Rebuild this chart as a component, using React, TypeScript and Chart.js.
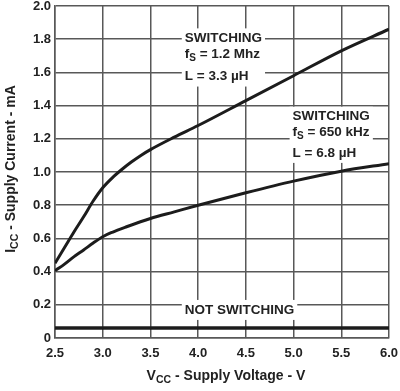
import React, { useEffect, useRef } from 'react';
import { Chart, registerables } from 'chart.js';

Chart.register(...registerables);

// ---- data ----
const xTickValues = [2.5, 3.0, 3.5, 4.0, 4.5, 5.0, 5.5, 6.0];
const xTickLabels = ['2.5', '3.0', '3.5', '4.0', '4.5', '5.0', '5.5', '6.0'];
const yTickValues = [0, 0.2, 0.4, 0.6, 0.8, 1.0, 1.2, 1.4, 1.6, 1.8, 2.0];
const yTickLabels = ['0', '0.2', '0.4', '0.6', '0.8', '1.0', '1.2', '1.4', '1.6', '1.8', '2.0'];

// SWITCHING fS = 1.2 MHz, L = 3.3 uH
const voltage1 = [2.5, 2.6, 2.7, 2.8, 2.9, 3.0, 3.1, 3.2, 3.3, 3.4, 3.5, 3.75, 4.0, 4.5, 5.0, 5.5, 6.0];
const current1 = [0.45, 0.545, 0.64, 0.73, 0.825, 0.905, 0.965, 1.015, 1.06, 1.1, 1.135, 1.21, 1.28, 1.43, 1.58, 1.73, 1.86];

// SWITCHING fS = 650 kHz, L = 6.8 uH
const voltage2 = [2.5, 2.6, 2.7, 2.8, 2.9, 3.0, 3.1, 3.25, 3.5, 3.75, 4.0, 4.5, 5.0, 5.5, 6.0];
const current2 = [0.405, 0.445, 0.49, 0.53, 0.572, 0.61, 0.637, 0.67, 0.72, 0.76, 0.8, 0.875, 0.945, 1.005, 1.05];

// NOT SWITCHING
const voltage3 = [2.5, 6.0];
const current3 = [0.06, 0.06];

type Part = { t: string; sub?: boolean };
type Line = { y: number; parts: Part[] };
type Block = { x: number; lines: Line[] };

const annotationBlocks: Block[] = [
  {
    x: 3.86,
    lines: [
      { y: 1.805, parts: [{ t: 'SWITCHING' }] },
      { y: 1.71, parts: [{ t: 'f' }, { t: 'S', sub: true }, { t: ' = 1.2 Mhz' }] },
      { y: 1.575, parts: [{ t: 'L = 3.3 µH' }] },
    ],
  },
  {
    x: 4.99,
    lines: [
      { y: 1.333, parts: [{ t: 'SWITCHING' }] },
      { y: 1.238, parts: [{ t: 'f' }, { t: 'S', sub: true }, { t: ' = 650 kHz' }] },
      { y: 1.115, parts: [{ t: 'L = 6.8 µH' }] },
    ],
  },
  {
    x: 3.86,
    lines: [{ y: 0.169, parts: [{ t: 'NOT SWITCHING' }] }],
  },
];

const xTitle: Part[] = [{ t: 'V' }, { t: 'CC', sub: true }, { t: ' - Supply Voltage - V' }];
const yTitle: Part[] = [{ t: 'I' }, { t: 'CC', sub: true }, { t: ' - Supply Current - mA' }];

const FAMILY = '"Liberation Sans", Arial, Helvetica, sans-serif';
const TEXT = '#222222';
const GRID = '#585858';

function setFont(ctx: CanvasRenderingContext2D, size: number) {
  ctx.font = `bold ${size}px ${FAMILY}`;
}

function measureParts(ctx: CanvasRenderingContext2D, parts: Part[], size: number, subSize: number) {
  let w = 0;
  for (const p of parts) {
    setFont(ctx, p.sub ? subSize : size);
    w += ctx.measureText(p.t).width;
  }
  return w;
}

function drawParts(
  ctx: CanvasRenderingContext2D,
  parts: Part[],
  x: number,
  y: number,
  size: number,
  subSize: number,
  subOffset: number
) {
  ctx.textBaseline = 'middle';
  ctx.textAlign = 'left';
  ctx.fillStyle = TEXT;
  let cx = x;
  for (const p of parts) {
    setFont(ctx, p.sub ? subSize : size);
    ctx.fillText(p.t, cx, p.sub ? y + subOffset : y);
    cx += ctx.measureText(p.t).width;
  }
}

const ANN_SIZE = 13.5;
const ANN_SUB = 10;

const annotationPlugin = {
  id: 'annotations',
  beforeDatasetsDraw(chart: any) {
    const ctx: CanvasRenderingContext2D = chart.ctx;
    const xs = chart.scales.x;
    const ys = chart.scales.y;
    ctx.save();
    for (const b of annotationBlocks) {
      const left = xs.getPixelForValue(b.x);
      let maxW = 0;
      for (const l of b.lines) maxW = Math.max(maxW, measureParts(ctx, l.parts, ANN_SIZE, ANN_SUB));
      const top = ys.getPixelForValue(b.lines[0].y) - 10;
      const bottom = ys.getPixelForValue(b.lines[b.lines.length - 1].y) + 10;
      ctx.fillStyle = '#ffffff';
      ctx.fillRect(left - 3, top, maxW + 6, bottom - top);
    }
    ctx.restore();
  },
  afterDatasetsDraw(chart: any) {
    const ctx: CanvasRenderingContext2D = chart.ctx;
    const xs = chart.scales.x;
    const ys = chart.scales.y;
    ctx.save();
    for (const b of annotationBlocks) {
      const left = xs.getPixelForValue(b.x);
      for (const l of b.lines) {
        drawParts(ctx, l.parts, left, ys.getPixelForValue(l.y), ANN_SIZE, ANN_SUB, 4);
      }
    }
    ctx.restore();
  },
  afterDraw(chart: any) {
    const ctx: CanvasRenderingContext2D = chart.ctx;
    const area = chart.chartArea;
    ctx.save();
    // x title
    const size = 14;
    const sub = 10.5;
    const wx = measureParts(ctx, xTitle, size, sub);
    const cx = (area.left + area.right) / 2 + 4;
    drawParts(ctx, xTitle, cx - wx / 2, 376, size, sub, 4);
    // y title
    const wy = measureParts(ctx, yTitle, size, sub);
    ctx.translate(11, (area.top + area.bottom) / 2 - 3);
    ctx.rotate(-Math.PI / 2);
    drawParts(ctx, yTitle, -wy / 2, 0, size, sub, 4);
    ctx.restore();
  },
};

export default function App() {
  const ref = useRef<HTMLCanvasElement | null>(null);

  useEffect(() => {
    if (!ref.current) return;
    const tickFont = { family: FAMILY, size: 13, weight: 'bold' as const, lineHeight: 1.2 };
    const lineStyle = {
      borderColor: '#1c1c1c',
      borderWidth: 3,
      pointRadius: 0,
      fill: false,
      cubicInterpolationMode: 'monotone' as const,
    };
    const chart = new Chart(ref.current, {
      type: 'line',
      data: {
        datasets: [
          { ...lineStyle, data: voltage1.map((v, i) => ({ x: v, y: current1[i] })) },
          { ...lineStyle, data: voltage2.map((v, i) => ({ x: v, y: current2[i] })) },
          { ...lineStyle, borderWidth: 3.5, data: voltage3.map((v, i) => ({ x: v, y: current3[i] })) },
        ],
      },
      options: {
        responsive: false,
        animation: false,
        events: [],
        layout: { padding: { top: 6, right: 11, left: 0, bottom: 0 } },
        plugins: { legend: { display: false }, tooltip: { enabled: false } },
        scales: {
          x: {
            type: 'linear',
            min: 2.5,
            max: 6.0,
            afterBuildTicks: (s: any) => {
              s.ticks = xTickValues.map((v) => ({ value: v }));
            },
            afterFit: (s: any) => {
              s.height = 53;
              s.paddingLeft = 0;
              s.paddingRight = 0;
            },
            ticks: {
              font: tickFont,
              color: TEXT,
              padding: 8,
              maxRotation: 0,
              autoSkip: false,
              callback: (_v: any, i: number) => xTickLabels[i],
            },
            grid: { color: GRID, lineWidth: 1.5, drawTicks: false },
            border: { color: GRID, width: 1.5 },
          },
          y: {
            type: 'linear',
            min: 0,
            max: 2.0,
            afterBuildTicks: (s: any) => {
              s.ticks = yTickValues.map((v) => ({ value: v }));
            },
            afterFit: (s: any) => {
              s.width = 55;
              s.paddingTop = 0;
              s.paddingBottom = 0;
            },
            ticks: {
              font: tickFont,
              color: TEXT,
              padding: 4,
              autoSkip: false,
              callback: (_v: any, i: number) => yTickLabels[i],
            },
            grid: { color: GRID, lineWidth: 1.5, drawTicks: false },
            border: { color: GRID, width: 1.5 },
          },
        },
      },
      plugins: [annotationPlugin],
    });
    return () => chart.destroy();
  }, []);

  return (
    <div style={{ position: 'absolute', left: 0, top: 0, width: 400, height: 391, background: '#fff' }}>
      <canvas ref={ref} width={400} height={391} style={{ display: 'block' }} />
    </div>
  );
}
